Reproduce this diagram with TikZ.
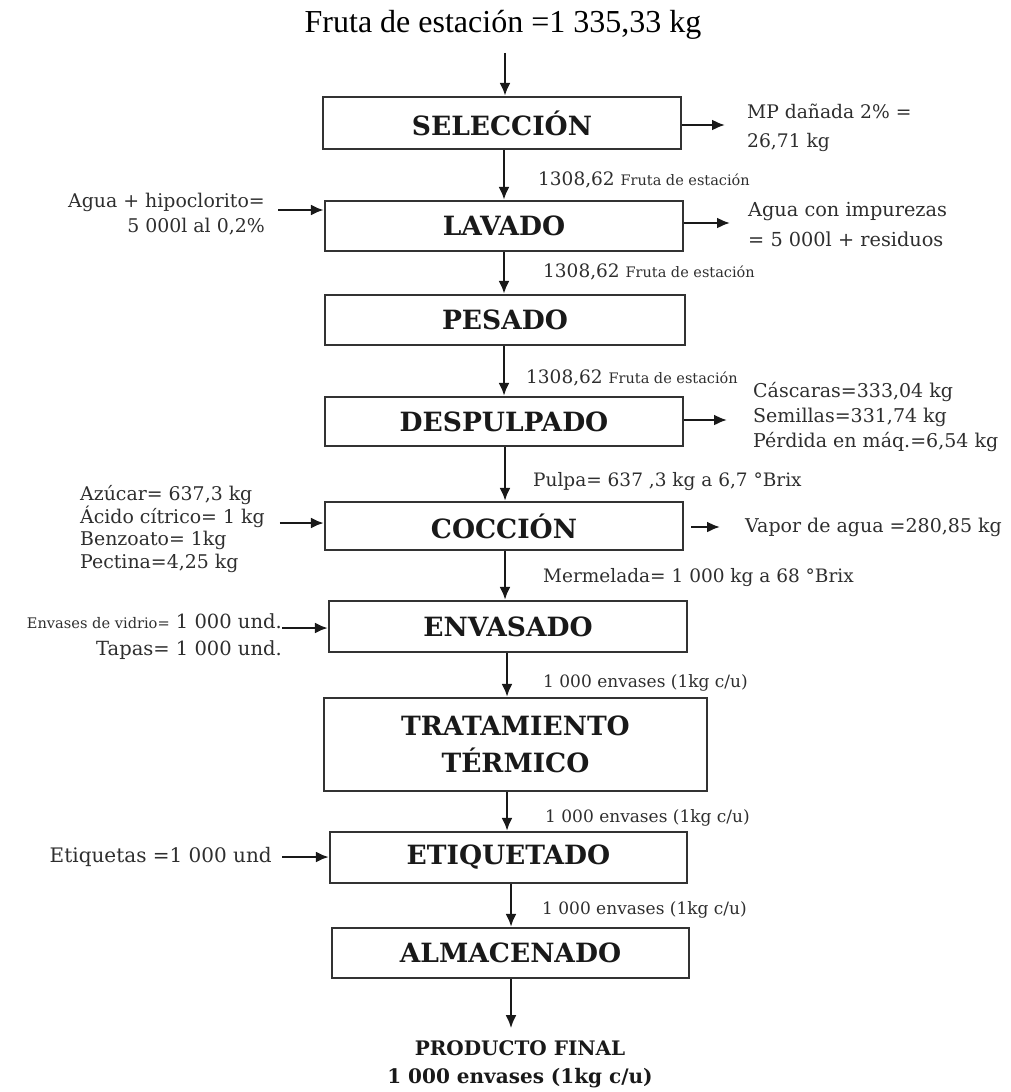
\documentclass[tikz,border=0pt]{standalone}
\usepackage{fontspec}
\setmainfont{DejaVu Serif}
\newfontfamily\timesfont{Liberation Serif}
\newcommand\minorsize{\fontsize{14.5}{16}\selectfont}
\usetikzlibrary{arrows.meta}

\begin{document}
\begin{tikzpicture}[x=1pt,y=-1pt,
  stepbox/.style={draw=black!80, line width=2.4pt, inner sep=0pt, align=center,
    font=\fontsize{26.5}{37}\selectfont\bfseries, text=black!90},
  flow/.style={-{Latex[length=13pt,width=11pt]}, line width=2.2pt, draw=black!90},
  lbl/.style={inner sep=0pt, text=black!82},
  flowlbl/.style={inner sep=0pt, anchor=west, font=\fontsize{18.5}{22}\selectfont, text=black!82}
]
\useasboundingbox (0,0) rectangle (1011,1092);

% raw material entering the line
\node[inner sep=0pt, font=\timesfont\fontsize{32}{36}\selectfont] (src) at (503,25)
  {Fruta de estación =1 335,33 kg};

% process steps
\node[stepbox, minimum width=358pt, minimum height=52pt] (sel)  at (502,123)   {SELECCIÓN};
\node[stepbox, minimum width=358pt, minimum height=50pt] (lav)  at (504,226)   {LAVADO};
\node[stepbox, minimum width=360pt, minimum height=50pt] (pes)  at (505,320)   {PESADO};
\node[stepbox, minimum width=358pt, minimum height=49pt] (desp) at (504,421.5) {DESPULPADO};
\node[stepbox, minimum width=358pt, minimum height=48pt] (coc)  at (504,526)   {COCCIÓN};
\node[stepbox, minimum width=358pt, minimum height=51pt] (env)  at (508,626.5) {ENVASADO};
\node[stepbox, minimum width=383pt, minimum height=93pt] (trat) at (515.5,744.5) {TRATAMIENTO\\TÉRMICO};
\node[stepbox, minimum width=357pt, minimum height=51pt] (etq)  at (508.5,857.5) {ETIQUETADO};
\node[stepbox, minimum width=357pt, minimum height=50pt] (alm)  at (510.5,953)  {ALMACENADO};

% final product
\node[inner sep=0pt, align=center, font=\fontsize{20}{28}\selectfont\bfseries, text=black!90]
  (prod) at (520,1064) {PRODUCTO FINAL\\1 000 envases (1kg c/u)};

% main flow
\draw[flow] ([yshift=-13pt]src.south -| 505,0) -- (sel.north -| 505,0);
\draw[flow] (sel.south -| 504,0)  -- (lav.north -| 504,0);
\draw[flow] (lav.south -| 504,0)  -- (pes.north -| 504,0);
\draw[flow] (pes.south -| 504,0)  -- (desp.north -| 504,0);
\draw[flow] (desp.south -| 505,0) -- (coc.north -| 505,0);
\draw[flow] (coc.south -| 505,0)  -- (env.north -| 505,0);
\draw[flow] (env.south -| 507,0)  -- (trat.north -| 507,0);
\draw[flow] (trat.south -| 507,0) -- (etq.north -| 507,0);
\draw[flow] (etq.south -| 511,0)  -- (alm.north -| 511,0);
\draw[flow] (alm.south -| 511,0)  -- ([yshift=12pt]prod.north -| 511,0);

% quantities carried between steps
\node[flowlbl] (q1) at (538,180) {1308,62 {\minorsize Fruta de estación}};
\node[flowlbl] (q2) at (543,272) {1308,62 {\minorsize Fruta de estación}};
\node[flowlbl] (q3) at (526,378) {1308,62 {\minorsize Fruta de estación}};
\node[flowlbl] (q4) at (533,482) {Pulpa= 637 ,3 kg a 6,7 °Brix};
\node[flowlbl] (q5) at (543,578) {Mermelada= 1 000 kg a 68 °Brix};
\node[flowlbl, font=\fontsize{17}{20}\selectfont] (q6) at (543,683) {1 000 envases (1kg c/u)};
\node[flowlbl, font=\fontsize{17}{20}\selectfont] (q7) at (545,818) {1 000 envases (1kg c/u)};
\node[flowlbl, font=\fontsize{17}{20}\selectfont] (q8) at (542,910) {1 000 envases (1kg c/u)};

% outputs on the right
\node[lbl, anchor=west, align=left, font=\fontsize{18.7}{29}\selectfont] (oSel) at (747,127.5)
  {MP dañada 2\% =\\26,71 kg};
\node[lbl, anchor=west, align=left, font=\fontsize{19.3}{30}\selectfont] (oLav) at (748,225)
  {Agua con impurezas\\= 5 000l + residuos};
\node[lbl, anchor=west, align=left, font=\fontsize{19}{25}\selectfont] (oDesp) at (753,417)
  {Cáscaras=333,04 kg\\Semillas=331,74 kg\\Pérdida en máq.=6,54 kg};
\node[lbl, anchor=west, font=\fontsize{19}{22}\selectfont] (oCoc) at (745,527)
  {Vapor de agua =280,85 kg};

\draw[flow] (sel.east |- 0,125)  -- ([xshift=-22pt]oSel.west |- 0,125);
\draw[flow] (lav.east |- 0,223)  -- ([xshift=-18pt]oLav.west |- 0,223);
\draw[flow] (desp.east |- 0,420) -- ([xshift=-26pt]oDesp.west |- 0,420);
\draw[flow] ([xshift=7pt]coc.east |- 0,527) -- ([xshift=-25pt]oCoc.west |- 0,527);

% inputs on the left
\node[lbl, anchor=east, align=right, font=\fontsize{18.9}{25}\selectfont] (iLav) at (265,214.5)
  {Agua + hipoclorito=\\5 000l al 0,2\%};
\node[lbl, anchor=west, align=left, font=\fontsize{18.9}{22.5}\selectfont] (iCoc) at (80,529)
  {Azúcar= 637,3 kg\\Ácido cítrico= 1 kg\\Benzoato= 1kg\\Pectina=4,25 kg};
\node[lbl, anchor=east, align=right, font=\fontsize{19.5}{27}\selectfont] (iEnv) at (282,636.5)
  {{\fontsize{14.6}{16}\selectfont Envases de vidrio=} 1 000 und.\\Tapas= 1 000 und.};
\node[lbl, anchor=east, font=\fontsize{20}{22}\selectfont] (iEtq) at (272,857)
  {Etiquetas =1 000 und};

\draw[flow] ([xshift=13pt]iLav.east |- 0,210) -- (lav.west |- 0,210);
\draw[flow] ([xshift=15pt]iCoc.east |- 0,523) -- (coc.west |- 0,523);
\draw[flow] (iEnv.east |- 0,628) -- (env.west |- 0,628);
\draw[flow] ([xshift=10pt]iEtq.east |- 0,857) -- (etq.west |- 0,857);
\end{tikzpicture}
\end{document}
